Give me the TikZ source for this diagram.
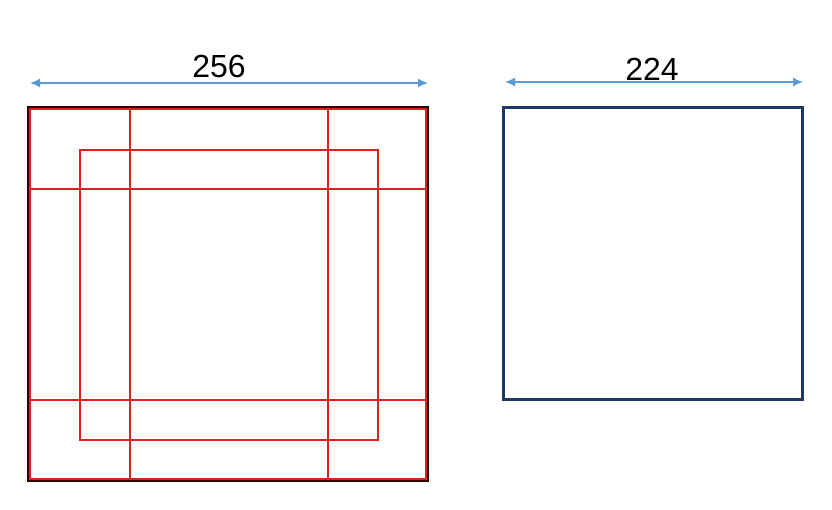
\documentclass[tikz,border=0pt]{standalone}
\usepackage{fontspec}
\setmainfont{Liberation Sans}
\usetikzlibrary{arrows.meta}
\definecolor{arrowblue}{HTML}{5B9BD5}
\definecolor{navy}{HTML}{1F3864}
\definecolor{cropred}{HTML}{E02020}
\tikzset{
  dim/.style={draw=arrowblue, line width=1.6pt, {Latex[length=10pt,width=9pt]}-{Latex[length=10pt,width=9pt]}},
  crop/.style={draw=cropred, line width=1.4pt},
  lbl/.style={font=\fontsize{32}{32}\selectfont, inner sep=0pt},
}
\begin{document}
\begin{tikzpicture}[x=1pt,y=-1pt]
\useasboundingbox (0,0) rectangle (832,510);
% left image with crops
\draw[draw=black!80!red, line width=2.6pt] (28,107) rectangle (428,481);
\draw[crop] (30,109) rectangle (328,400);
\draw[crop] (130,109) rectangle (426,400);
\draw[crop] (30,189) rectangle (328,479);
\draw[crop] (130,189) rectangle (426,479);
\draw[crop] (80,150) rectangle (378,440);
% right image
\draw[draw=navy, line width=3pt] (503,108) rectangle (802,399);
% dimension arrows
\coordinate (la) at (30,83);
\coordinate (lb) at (428,83);
\coordinate (ra) at (505,82);
\coordinate (rb) at (803,82);
\draw[dim] (la) -- (lb);
\draw[dim] (ra) -- (rb);
\node[lbl] (l256) at (219,66) {256};
\node[lbl] (l224) at (652,69) {224};
\end{tikzpicture}
\end{document}
